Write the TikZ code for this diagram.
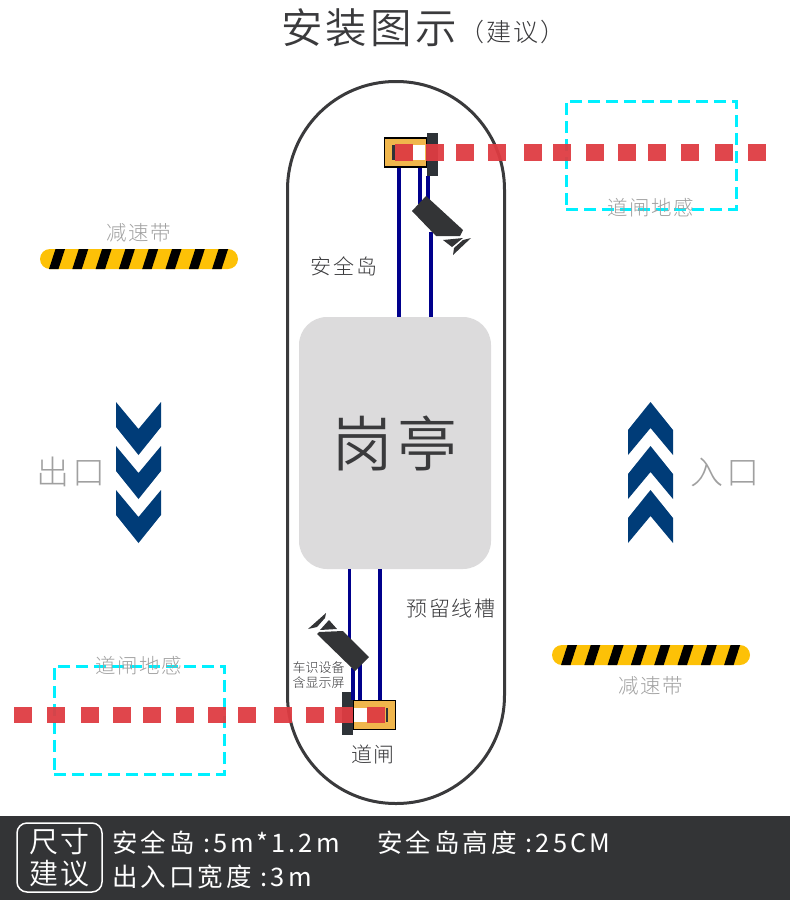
\documentclass[tikz,border=0pt]{standalone}
\usepackage{fontspec}
\setmainfont{Noto Sans CJK SC Light}
\newfontfamily\widecjk[LetterSpace=8]{Noto Sans CJK SC Light}
\newfontfamily\headcjk[LetterSpace=8]{Noto Sans CJK SC DemiLight}
\newfontfamily\spreadcjk[LetterSpace=12]{Noto Sans CJK SC}
\usetikzlibrary{positioning}
\definecolor{ink}{RGB}{58,58,60}
\definecolor{barband}{RGB}{51,52,54}
\definecolor{booth}{RGB}{220,219,220}
\definecolor{wire}{RGB}{0,0,140}
\definecolor{amber}{RGB}{240,182,76}
\definecolor{postgray}{RGB}{46,51,56}
\definecolor{barred}{RGB}{222,60,66}
\definecolor{loopcyan}{RGB}{0,240,255}
\definecolor{bumpyellow}{RGB}{253,193,7}
\definecolor{arrownavy}{RGB}{0,60,120}
\definecolor{softgray}{RGB}{160,160,160}
\tikzset{
  island/.style={draw=ink,line width=3pt,rounded corners=108pt,minimum width=217pt,minimum height=722pt,inner sep=0pt},
  kiosk/.style={fill=booth,rounded corners=28pt,minimum width=192pt,minimum height=252pt,inner sep=0pt,text=ink},
  gatebox/.style={draw=black,line width=1.5pt,fill=amber,minimum width=42pt,minimum height=29pt,inner sep=0pt},
  gatepost/.style={fill=postgray,minimum width=11pt,minimum height=43pt,inner sep=0pt},
  cable/.style={wire,line width=3.2pt},
  loopzone/.style={draw=loopcyan,line width=3pt,dash pattern=on 12pt off 6pt,minimum width=170pt,minimum height=108pt,inner sep=0pt},
  bump/.style={fill=bumpyellow,rounded corners=10pt,minimum width=198pt,minimum height=20pt,inner sep=0pt},
  chevron/.style={fill=arrownavy},
  caption/.style={text=softgray,font=\widecjk\fontsize{20.5}{22}\selectfont,inner sep=0pt},
  tag/.style={text=ink,font=\widecjk\fontsize{21}{24}\selectfont,inner sep=0pt},
  bigtag/.style={text=softgray,font=\widecjk\fontsize{33}{36}\selectfont,inner sep=0pt},
  info/.style={text=white,font=\spreadcjk\fontsize{25.5}{30}\selectfont,inner sep=0pt,anchor=west}
}
\begin{document}
\begin{tikzpicture}[x=1pt,y=-1pt]
  \useasboundingbox (0,0) rectangle (790,900);
  \fill[barband] (0,816) rectangle (790,900);
  \node[text=ink,font=\headcjk\fontsize{41.5}{44}\selectfont,inner sep=0pt] (title) at (369,28) {安装图示};
  \node[text=ink,font=\widecjk\fontsize{25}{26}\selectfont,inner sep=0pt] (titlenote) at (512,32) {（建议）};
  \node[island] (isle) at (396,442.5) {};
  \node[kiosk,font=\headcjk\fontsize{60}{64}\selectfont] (guard) at (395,443) {岗亭};

  \node[gatebox] (gatetop) at (405.5,152.5) {};
  \node[gatepost] (posttop) at (432.5,154.5) {};
  \node[gatebox] (gatelow) at (374.5,715) {};
  \node[gatepost] (postlow) at (347.5,713.5) {};
  \fill[white] (413,145) rectangle (425,160);
  \fill[white] (354,708) rectangle (367,722);
  \fill[postgray] (392,145) rectangle (395,160);
  \fill[postgray] (386,708) rectangle (388,722);

  \coordinate (camtopa) at (420,204);
  \coordinate (camtopb) at (428,200);
  \coordinate (camtopc) at (431,232);
  \coordinate (camlowa) at (349.5,650);
  \coordinate (camlowb) at (353,668);
  \coordinate (camlowc) at (360,662);
  \draw[cable] (gatetop.south -| 399,0) -- (guard.north -| 399,0);
  \draw[cable] (gatetop.south -| camtopa) -- (camtopa);
  \draw[cable] (posttop.south -| camtopb) -- (camtopb);
  \draw[cable] (camtopc) -- (guard.north -| camtopc);
  \draw[cable] (guard.south -| camlowa) -- (camlowa);
  \draw[cable] (camlowb) -- (gatelow.north -| camlowb);
  \draw[cable] (camlowc) -- (gatelow.north -| camlowc);
  \draw[cable] (guard.south -| 380,0) -- (gatelow.north -| 380,0);

  \fill[barband] (426,196) -- (412,211) -- (436,236) -- (460,236) -- (463,230) -- cycle;
  \fill[barband] (443,240) -- (463,238) -- (452,247) -- cycle;
  \fill[barband] (471,238) -- (453,255) -- (454,248) -- (463,240) -- cycle;
  \fill[barband] (317,634) -- (319,632) -- (343,631) -- (369,657) -- (355,671) -- cycle;
  \fill[barband] (320,630) -- (329,620) -- (337,629) -- cycle;
  \fill[barband] (308,629) -- (326,613) -- (325,618) -- (317,627) -- cycle;

  \node[loopzone] (looptop) at (651,155) {};
  \node[loopzone] (looplow) at (139,720) {};
  \foreach \xa in {395,426,456,488,524,553,586,618,648,681,715,748}
    \fill[barred,opacity=.95] (\xa,144) rectangle ++(18,16.5);
  \foreach \xa in {14,47,81,113,143,176,208,238,274,306,335,367}
    \fill[barred,opacity=.95] (\xa,707) rectangle ++(18,16);
  \node[caption] (looptoptag) at (651,208) {道闸地感};
  \node[caption] (looplowtag) at (139,666) {道闸地感};

  \node[bump] (bumpleft) at (139,259) {};
  \node[bump] (bumpright) at (651,655) {};
  \foreach \xa in {0,...,7}{
    \fill[black] ({49+23.3*\xa},269) -- ({58.5+23.3*\xa},269) -- ({65+23.3*\xa},249) -- ({55.5+23.3*\xa},249) -- cycle;
    \fill[black] ({561+23.3*\xa},665) -- ({570.5+23.3*\xa},665) -- ({577+23.3*\xa},645) -- ({567.5+23.3*\xa},645) -- cycle;
  }
  \node[caption,above=6pt of bumpleft] (bumplefttag) {减速带};
  \node[caption,below=11pt of bumpright] (bumprighttag) {减速带};

  \foreach \ya in {0,44,88}{
    \fill[chevron] (116,402+\ya) -- (138.5,429+\ya) -- (161,402+\ya) -- (161,427+\ya) -- (138.5,455+\ya) -- (116,427+\ya) -- cycle;
    \fill[chevron] (628,543-\ya) -- (650.5,516-\ya) -- (673,543-\ya) -- (673,518-\ya) -- (650.5,490-\ya) -- (628,518-\ya) -- cycle;
  }
  \node[bigtag] (exittag) at (71,472) {出口};
  \node[bigtag] (entrytag) at (725,472) {入口};

  \node[tag] (isletag) at (344,266) {安全岛};
  \node[tag] (slottag) at (451,609) {预留线槽};
  \node[tag] (gatetag) at (373,754) {道闸};
  \node[text=ink,font=\fontsize{13}{14.5}\selectfont,align=center,inner sep=0pt] (devicetag) at (318.5,675) {车识设备\\含显示屏};

  \node[draw=white,line width=1.5pt,rounded corners=10pt,minimum width=85pt,minimum height=69pt,inner sep=0pt,text=white,align=center,font=\headcjk\fontsize{29}{32}\selectfont] (sizebox) at (59.5,857.5) {尺寸\\建议};
  \node[info] (infoa) at (112,843) {安全岛 :5m*1.2m};
  \node[info] (infob) at (377,843) {安全岛高度 :25CM};
  \node[info] (infoc) at (112,877) {出入口宽度 :3m};
\end{tikzpicture}
\end{document}
